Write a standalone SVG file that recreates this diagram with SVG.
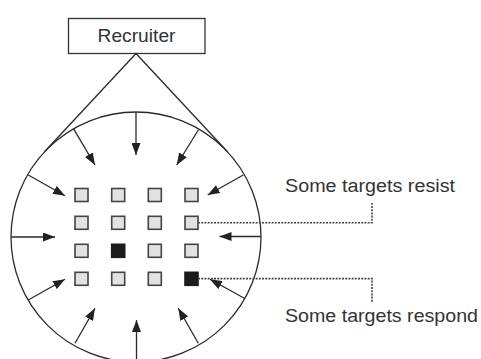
<svg xmlns="http://www.w3.org/2000/svg" width="481" height="359" viewBox="0 0 481 359">
<defs>
<marker id="ah" markerUnits="userSpaceOnUse" markerWidth="13" markerHeight="9" refX="12" refY="4.5" orient="auto">
<path d="M0,0 L12,4.5 L0,9 Z" fill="#222"/>
</marker>
<style>
.ln{stroke:#2a2a2a;stroke-width:1.3;fill:none}
.ar{stroke:#2a2a2a;stroke-width:1.3;fill:none;marker-end:url(#ah)}
.dash{stroke:#444;stroke-width:1.6;fill:none;stroke-dasharray:2 1.2}
.sq{fill:#e2e2e2;stroke:#444;stroke-width:1.6}
.sqf{fill:#1c1c1c;stroke:#1c1c1c;stroke-width:1.6}
.t{font-family:"Liberation Sans",Arial,sans-serif;font-size:19.2px;fill:#333}
</style>
</defs>
<rect width="481" height="359" fill="#fff"/>
<g id="recruiter">
<rect x="68.5" y="18.5" width="136.5" height="35" fill="#fff" stroke="#333" stroke-width="1.3"/>
<text class="t" x="136.5" y="42" text-anchor="middle" textLength="78" lengthAdjust="spacingAndGlyphs">Recruiter</text>
</g>
<g id="field">
<circle cx="136" cy="237" r="125" class="ln"/>
</g>
<g id="targets">
<rect class="sq" x="75" y="188.5" width="13" height="13"/>
<rect class="sq" x="111.7" y="188.5" width="13" height="13"/>
<rect class="sq" x="148.3" y="188.5" width="13" height="13"/>
<rect class="sq" x="185" y="188.5" width="13" height="13"/>
<rect class="sq" x="75" y="216.3" width="13" height="13"/>
<rect class="sq" x="111.7" y="216.3" width="13" height="13"/>
<rect class="sq" x="148.3" y="216.3" width="13" height="13"/>
<rect class="sq" x="185" y="216.3" width="13" height="13"/>
<rect class="sq" x="75" y="244.3" width="13" height="13"/>
<rect class="sqf" x="111.7" y="244.3" width="13" height="13"/>
<rect class="sq" x="148.3" y="244.3" width="13" height="13"/>
<rect class="sq" x="185" y="244.3" width="13" height="13"/>
<rect class="sq" x="75" y="272.3" width="13" height="13"/>
<rect class="sq" x="111.7" y="272.3" width="13" height="13"/>
<rect class="sq" x="148.3" y="272.3" width="13" height="13"/>
<rect class="sqf" x="185" y="272.3" width="13" height="13"/>
</g>
<g id="label-resist">
<text class="t" x="285" y="192" textLength="170" lengthAdjust="spacingAndGlyphs">Some targets resist</text>
</g>
<g id="label-respond">
<text class="t" x="285" y="322" textLength="193" lengthAdjust="spacingAndGlyphs">Some targets respond</text>
</g>
<g id="connectors">
<path class="ln" d="M44.5,151.8 L136,53.5 L227.5,151.8"/>
<path class="ar" d="M136,112 L136,155"/>
<path class="ar" d="M73.3,128.3 L95,165"/>
<path class="ar" d="M198.3,130 L176.7,165"/>
<path class="ar" d="M28.3,175 L65,195.7"/>
<path class="ar" d="M243.3,175 L207.7,195"/>
<path class="ar" d="M11,237 L55,237"/>
<path class="ar" d="M261,236.5 L219.5,236.5"/>
<path class="ar" d="M28.3,300 L65,279.3"/>
<path class="ar" d="M244.3,298.3 L210,279.3"/>
<path class="ar" d="M75,343.3 L95,308.3"/>
<path class="ar" d="M198.3,343.3 L178.3,308.3"/>
<path class="ar" d="M136.5,362 L136.5,320"/>
<path class="dash" d="M198,222.8 L372,222.8 L372,203"/>
<path class="dash" d="M198,278.6 L372,278.6 L372,303"/>
</g>
</svg>
